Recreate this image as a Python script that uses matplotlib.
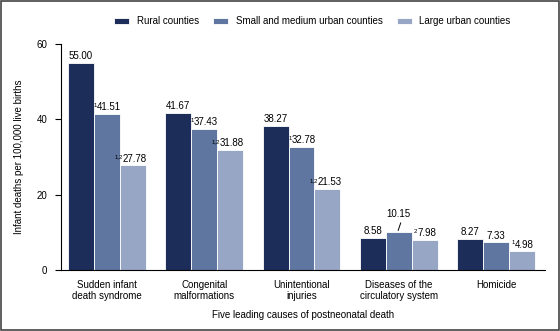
import numpy as np
import matplotlib.pyplot as plt
from matplotlib.patches import Rectangle

plt.rcParams['font.family'] = ['Liberation Sans', 'DejaVu Sans']

causes = ['Sudden infant\ndeath syndrome', 'Congenital\nmalformations', 'Unintentional\ninjuries',
          'Diseases of the\ncirculatory system', 'Homicide']
series = ['Rural counties', 'Small and medium urban counties', 'Large urban counties']
rural = [55.00, 41.67, 38.27, 8.58, 8.27]
small_medium = [41.51, 37.43, 32.78, 10.15, 7.33]
large = [27.78, 31.88, 21.53, 7.98, 4.98]
# superscript notes in front of each value
notes_small = ['1', '1', '1', '', '']
notes_large = ['1,2', '1,2', '1,2', '2', '1']
colors = ['#1c2d5a', '#5f76a0', '#97a6c4']

fig = plt.figure(figsize=(5.6, 3.31), dpi=100)
ax = fig.add_axes([0.109, 0.184, 0.864, 0.683])
fig.patches.append(Rectangle((0.002, 0.003), 0.996, 0.994, transform=fig.transFigure,
                             fill=False, edgecolor='#444444', linewidth=1.2))

x = np.arange(len(causes))
w = 0.267
data = [rural, small_medium, large]
notes = [[''] * 5, notes_small, notes_large]
for i, (vals, c, lab) in enumerate(zip(data, colors, series)):
    xs = x + (i - 1) * w
    ax.bar(xs, vals, w, color=c, edgecolor='white', linewidth=0.6, label=lab)
    for xi, v, n in zip(xs, vals, notes[i]):
        if i == 1 and v == 10.15:
            # label lifted above the bar with a small leader
            t = ax.annotate(f'{v:.2f}', xy=(xi, v), xytext=(0, 9), textcoords='offset points',
                            ha='center', va='bottom', fontsize=7)
            ax.annotate('', xy=(xi - 0.012, v), xytext=(2.2, 6.5), textcoords='offset points',
                        arrowprops=dict(arrowstyle='-', color='black', lw=0.7,
                                        shrinkA=0, shrinkB=1))
        else:
            t = ax.annotate(f'{v:.2f}', xy=(xi, v), xytext=(1.5 if n else 0, 1.2),
                            textcoords='offset points', ha='center', va='bottom', fontsize=7)
        if n:
            ax.annotate(n, xy=(0, 0.92), xycoords=t, ha='right', va='top', fontsize=4.3)

ax.set_xlim(-0.47, 4.5)
ax.set_ylim(0, 60)
ax.set_yticks([0, 20, 40, 60])
ax.set_xticks(x)
ax.set_xticklabels(causes, fontsize=7)
ax.tick_params(axis='x', length=0, pad=7)
ax.tick_params(axis='y', labelsize=7, length=4, width=0.8, pad=6)
for s in ['top', 'right']:
    ax.spines[s].set_visible(False)
ax.spines['left'].set_linewidth(0.8)
ax.spines['bottom'].set_linewidth(0.8)
ax.set_ylabel('Infant deaths per 100,000 live births', fontsize=7, labelpad=9)
ax.set_xlabel('Five leading causes of postneonatal death', fontsize=7, labelpad=6)

fig.legend(loc='upper left', bbox_to_anchor=(0.197, 0.963), borderaxespad=0, ncol=3,
           frameon=False, fontsize=7, handlelength=1.55, handleheight=0.6,
           columnspacing=1.5, handletextpad=0.75)

fig.savefig('out.png', dpi=100)
